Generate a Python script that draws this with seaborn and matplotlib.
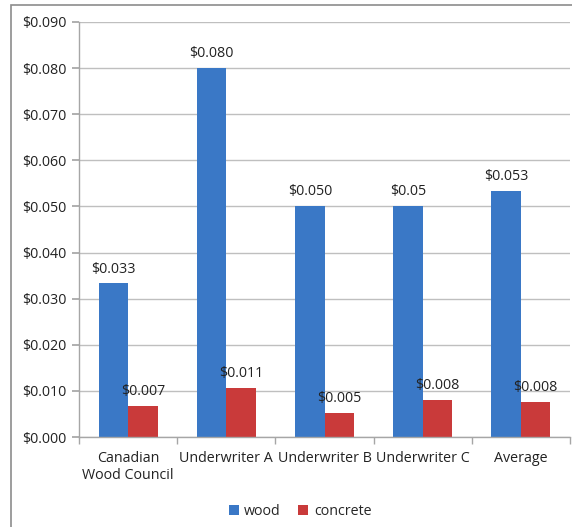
import matplotlib
matplotlib.use("Agg")
import matplotlib.pyplot as plt
import seaborn as sns
import pandas as pd
from matplotlib.patches import Rectangle
from matplotlib.ticker import FuncFormatter, FixedLocator

categories = ["Canadian\nWood Council", "Underwriter A", "Underwriter B", "Underwriter C", "Average"]
wood = [0.0333, 0.080, 0.050, 0.050, 0.0533]
concrete = [0.0067, 0.0106, 0.0052, 0.0080, 0.0076]
wood_labels = ["$0.033", "$0.080", "$0.050", "$0.05", "$0.053"]
concrete_labels = ["$0.007", "$0.011", "$0.005", "$0.008", "$0.008"]
series = ["wood", "concrete"]
colors = ["#3a78c6", "#c93a3a"]

df = pd.DataFrame({
    "category": categories * 2,
    "series": ["wood"] * len(categories) + ["concrete"] * len(categories),
    "value": wood + concrete,
})

sns.set_theme(style="white")
plt.rcParams['font.family'] = ['Open Sans', 'DejaVu Sans']
FS = 10.3

fig = plt.figure(figsize=(5.72, 5.27), dpi=100)
ax = fig.add_axes([79/572, 1-437/527, (570-79)/572, (437-22)/527])

sns.barplot(data=df, x="category", y="value", hue="series", hue_order=series,
            palette=colors, width=0.6, ax=ax, saturation=1, legend=True, linewidth=0)

for cont, labs in zip(ax.containers, [wood_labels, concrete_labels]):
    ax.bar_label(cont, labels=labs, padding=5, fontsize=FS, color="#222222")

ax.set_ylim(0, 0.09)
ax.set_xlim(-0.5, 4.5)
ax.set_yticks([i * 0.01 for i in range(10)])
ax.yaxis.set_major_formatter(FuncFormatter(lambda v, p: f"${v:.3f}"))
ax.set_xlabel("")
ax.set_ylabel("")
ax.grid(axis="y", color="#bfbfbf", linewidth=1)
ax.set_axisbelow(True)
for s in ["top", "right"]:
    ax.spines[s].set_visible(False)
for s in ["left", "bottom"]:
    ax.spines[s].set_color("#a6a6a6")
    ax.spines[s].set_linewidth(1)
ax.tick_params(axis="y", length=5, color="#a6a6a6", labelsize=FS, left=True, pad=4)
ax.tick_params(axis="x", which="major", length=0, labelsize=FS, pad=10)
ax.xaxis.set_minor_locator(FixedLocator([-0.5, 0.5, 1.5, 2.5, 3.5, 4.5]))
ax.tick_params(axis="x", which="minor", length=5, color="#a6a6a6", bottom=True)
for t in ax.get_yticklabels() + ax.get_xticklabels():
    t.set_color("#222222")

leg = ax.legend(loc="upper center", bbox_to_anchor=(0.45, -0.13), ncol=2, frameon=False,
                fontsize=FS, handlelength=0.7, handleheight=0.7, handletextpad=0.4,
                columnspacing=1.2)

fig.patches.append(Rectangle((11/572, -0.01), 1.0, 1 - 5/527 + 0.01, transform=fig.transFigure,
                             fill=False, edgecolor="#8c8c8c", linewidth=1.2))

fig.savefig("out.png", dpi=100)
